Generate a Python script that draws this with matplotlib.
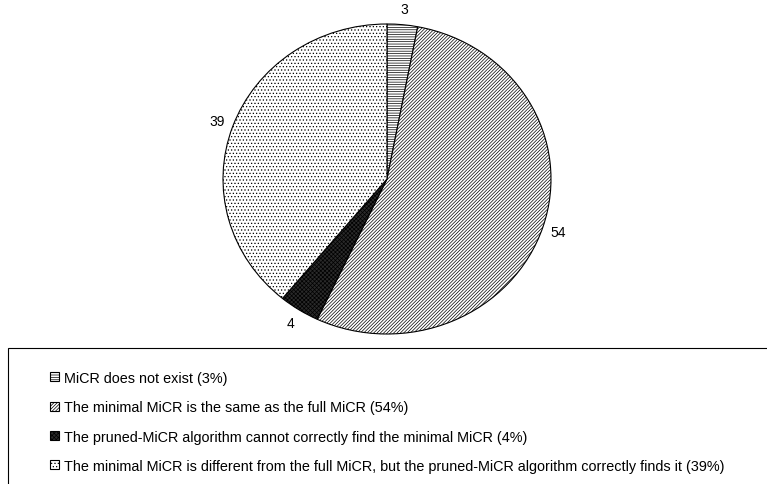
import matplotlib.pyplot as plt
from matplotlib.patches import Rectangle

plt.rcParams['font.family'] = ['Liberation Sans', 'DejaVu Sans']
plt.rcParams['hatch.linewidth'] = 0.5

# доли случаев, %
values = [3, 54, 4, 39]
labels = ['MiCR does not exist (3%)',
          'The minimal MiCR is the same as the full MiCR (54%)',
          'The pruned-MiCR algorithm cannot correctly find the minimal MiCR (4%)',
          'The minimal MiCR is different from the full MiCR, but the pruned-MiCR algorithm correctly finds it (39%)']
hatches = ['-------', '/' * 10, 'xxxxxxxx', '.....']
faces = ['white', 'white', '#2a2a2a', 'white']

fig = plt.figure(figsize=(7.67, 4.85), dpi=100)
ax = fig.add_axes([(387 - 164) / 767, 1 - (180 + 155) / 485, 328 / 767, 310 / 485])

wedges, texts = ax.pie(values, labels=[str(v) for v in values], startangle=90,
                       counterclock=False, radius=1, labeldistance=1.1,
                       wedgeprops={'edgecolor': 'black', 'linewidth': 0.8},
                       textprops={'fontsize': 10})
for w, h, fc in zip(wedges, hatches, faces):
    w.set_hatch(h)
    w.set_facecolor(fc)
for t in texts:
    t.set_ha('center')
    t.set_va('center')

ax.set_aspect('auto')
ax.set_xlim(-1, 1)
ax.set_ylim(-1, 1)

# рамка легенды уходит за край рисунка
fig.patches.append(Rectangle((8 / 767, -0.1), 1.0, (485 - 349) / 485 + 0.1,
                             transform=fig.transFigure, fill=False,
                             edgecolor='black', linewidth=0.8))

leg = fig.legend(wedges, labels, loc='upper left',
                 bbox_to_anchor=(50 / 767, 1 - 372 / 485),
                 frameon=False, fontsize=10.4, handlelength=0.6, handleheight=0.6,
                 handletextpad=0.35, labelspacing=1.06, borderpad=0, borderaxespad=0)

fig.savefig('out.png', dpi=100)
